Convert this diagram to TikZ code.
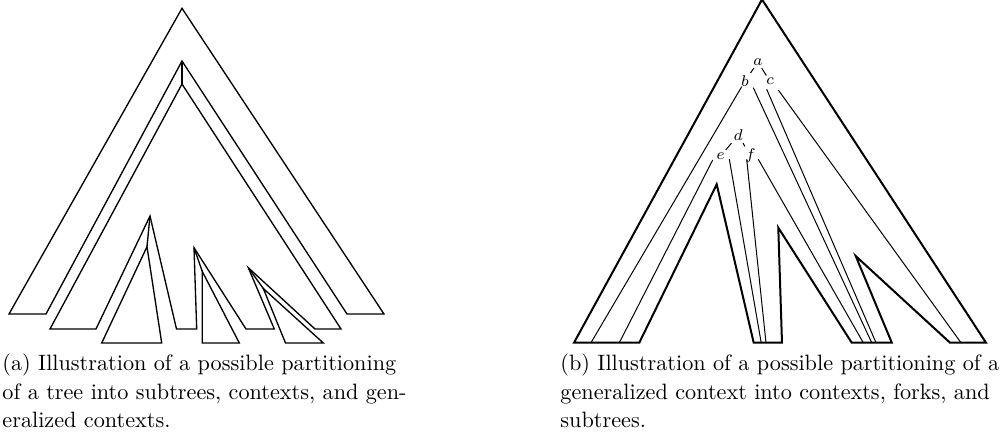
\documentclass[tikz,border=0pt]{standalone}
\begin{document}
\begin{tikzpicture}[x=0.45pt,y=-0.45pt,
  part/.style={line width=0.6pt, line join=miter},
  outline/.style={line width=0.9pt, line join=miter},
  thinline/.style={line width=0.45pt},
  lbl/.style={font=\scriptsize, inner sep=1pt},
  treeedge/.style={line width=0.45pt},
  captext/.style={font=\fontsize{10}{13}\selectfont, align=left, anchor=north west, inner sep=0pt}]
\useasboundingbox (0,0) rectangle (1000,436);

% ---------- (a) tree split into context, generalized context and subtrees
\coordinate (h1) at (182,61);
\coordinate (r2) at (182,84);
\coordinate (h2a) at (150,216);
\coordinate (h2b) at (194,247.7);
\coordinate (h2c) at (248.3,267.7);
\coordinate (s1) at (147,246.7);
\coordinate (s2) at (202.3,271.5);
\coordinate (s3) at (263.3,288.5);

% context with its hole at h1
\draw[part] (182,8.3) -- (9,314) -- (46,314) -- (h1) -- (347,314) -- (384,314) -- cycle;
\draw[part] (h1) -- (r2);
% generalized context with three holes
\draw[part] (r2) -- (50,329) -- (96,329) -- (h2a) -- (176.5,329) -- (196.7,329)
  -- (h2b) -- (246,329) -- (274.3,329) -- (h2c) -- (315,329) -- (341,329) -- cycle;
% subtrees hanging in the holes
\draw[part] (h2a) -- (s1);
\draw[part] (s1) -- (101.7,343) -- (161.7,343) -- cycle;
\draw[part] (h2b) -- (s2);
\draw[part] (s2) -- (202.3,343) -- (239.3,343) -- cycle;
\draw[part] (h2c) -- (s3);
\draw[part] (s3) -- (285.5,343) -- (323.3,343) -- cycle;

% ---------- (b) generalized context split into contexts, forks and subtrees
\draw[outline] (574,342.7) -- (762,-0.5) -- (986,342.7) -- (950,342.7) -- (855.7,256)
  -- (891.8,342.7) -- (851.7,342.7) -- (778.3,227.7) -- (782,342.7) -- (753.7,342.7)
  -- (716.7,184.3) -- (639.3,342.7) -- cycle;

\node[lbl] (a) at (758,62) {$a$};
\node[lbl] (b) at (745,81) {$b$};
\node[lbl] (c) at (770,81.5) {$c$};
\node[lbl] (d) at (738.3,135) {$d$};
\node[lbl] (e) at (720.7,156) {$e$};
\node[lbl] (f) at (750.5,156) {$f$};

\draw[treeedge] (a) -- (b);
\draw[treeedge] (a) -- (c);
\draw[treeedge] (d) -- (e);
\draw[treeedge] (d) -- (f);

\coordinate (bl) at (591,342.7);
\coordinate (el) at (619.3,342.7);
\coordinate (er) at (761.2,342.7);
\coordinate (fl) at (766,342.7);
\coordinate (fr) at (863.3,342.7);
\coordinate (br) at (871.7,342.7);
\coordinate (cl) at (876,342.7);
\coordinate (cr) at (961,342.7);

\draw[thinline] ([shift={(-3.3,5.7)}]b.center) -- (bl);
\draw[thinline] ([shift={(8.3,6.7)}]b.center) -- (br);
\draw[thinline] ([shift={(-3.3,7.8)}]c.center) -- (cl);
\draw[thinline] ([shift={(8.3,8.5)}]c.center) -- (cr);
\draw[thinline] ([shift={(-8,4)}]e.center) -- (el);
\draw[thinline] ([shift={(8.6,3)}]e.center) -- (er);
\draw[thinline] ([shift={(-3.8,3.3)}]f.center) -- (fl);
\draw[thinline] ([shift={(7.8,3.3)}]f.center) -- (fr);

% ---------- captions
\node[captext] (capa) at (2,353) {(a) Illustration of a possible partitioning\\
of a tree into subtrees, contexts, and gen-\\eralized contexts.};
\node[captext] (capb) at (560,353) {(b) Illustration of a possible partitioning of a\\
generalized context into contexts, forks, and\\subtrees.};
\end{tikzpicture}
\end{document}
